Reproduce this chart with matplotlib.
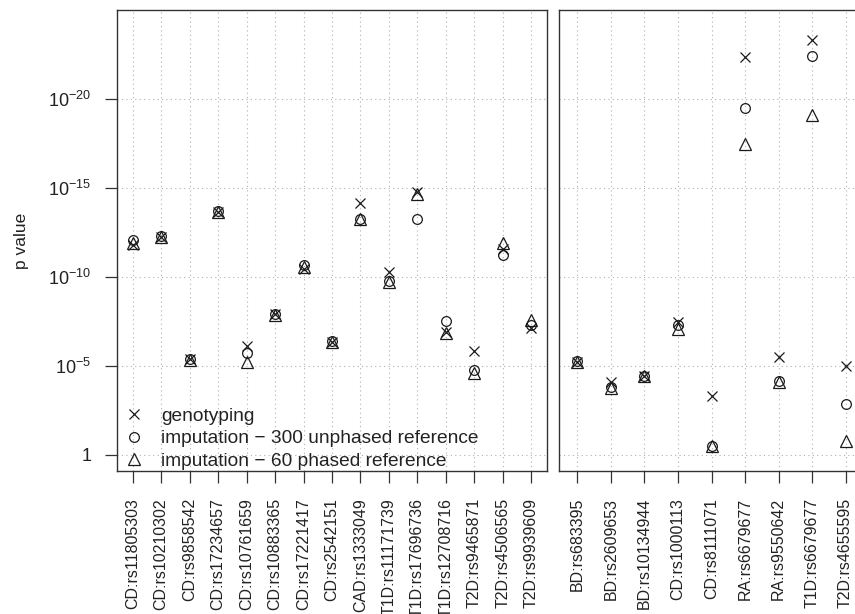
import matplotlib
matplotlib.use('Agg')
import matplotlib.pyplot as plt
import numpy as np

plt.rcParams['font.family'] = ['Liberation Sans', 'DejaVu Sans']
plt.rcParams['mathtext.fontset'] = 'custom'
plt.rcParams['mathtext.rm'] = 'Liberation Sans'
plt.rcParams['mathtext.it'] = 'Liberation Sans:italic'

# -log10(p)
left_snps = ['CD:rs11805303', 'CD:rs10210302', 'CD:rs9858542', 'CD:rs17234657',
             'CD:rs10761659', 'CD:rs10883365', 'CD:rs17221417', 'CD:rs2542151',
             'CAD:rs1333049', 'T1D:rs11171739', 'T1D:rs17696736', 'T1D:rs12708716',
             'T2D:rs9465871', 'T2D:rs4506565', 'T2D:rs9939609']
left_geno = [11.8, 12.25, 5.4, 13.65, 6.1, 7.9, 10.45, 6.37, 14.15, 10.3, 14.75, 6.93, 5.86, 11.6, 7.12]
left_imp300 = [12.1, 12.3, 5.4, 13.7, 5.75, 7.9, 10.65, 6.4, 13.25, 9.75, 13.28, 7.5, 4.8, 11.25, 7.3]
left_imp60 = [11.9, 12.25, 5.35, 13.65, 5.24, 7.88, 10.58, 6.37, 13.28, 9.7, 14.65, 6.87, 4.6, 11.93, 7.58]

right_snps = ['BD:rs683395', 'BD:rs2609653', 'BD:rs10134944', 'CD:rs1000113',
              'CD:rs8111071', 'RA:rs6679677', 'RA:rs9550642', 'T1D:rs6679677',
              'T2D:rs4655595']
right_geno = [5.24, 4.12, 4.44, 7.49, 3.33, 22.36, 5.52, 23.31, 5.0]
right_imp300 = [5.26, 3.84, 4.46, 7.3, 0.52, 19.47, 4.16, 22.43, 2.85]
right_imp60 = [5.22, 3.78, 4.42, 7.06, 0.52, 17.45, 4.1, 19.1, 0.8]

yticks = [0, 5, 10, 15, 20]
ytick_labels = ['1'] + [r'$10^{-%d}$' % k for k in yticks[1:]]

fig = plt.figure(figsize=(8.55, 6.14), dpi=100)
H = 614.0
W = 855.0
ax1 = fig.add_axes([117 / W, (H - 471) / H, (547 - 117) / W, (471 - 10) / H])
ax2 = fig.add_axes([559 / W, (H - 471) / H, (864 - 559) / W, (471 - 10) / H])

col = '#1a1a1a'
for ax, snps, g, i3, i6 in [(ax1, left_snps, left_geno, left_imp300, left_imp60),
                            (ax2, right_snps, right_geno, right_imp300, right_imp60)]:
    x = np.arange(1, len(snps) + 1)
    ax.plot(x, 10.0 ** -np.array(g), 'x', color=col, ms=7.5, mew=0.9, ls='none',
            label='genotyping')
    ax.plot(x, 10.0 ** -np.array(i3), 'o', mfc='none', mec=col, ms=7, mew=0.9, ls='none',
            label='imputation \u2212 300 unphased reference')
    ax.plot(x, 10.0 ** -np.array(i6), '^', mfc='none', mec=col, ms=8.5, mew=0.9, ls='none',
            label='imputation \u2212 60 phased reference')
    ax.set_yscale('log')
    ax.set_ylim(10 ** 0.9, 10 ** -25.0)
    ax.set_xlim(0.45, len(snps) + 0.55)
    ax.set_xticks(x)
    ax.set_xticklabels(snps, rotation=90, fontsize=11.5, color='#222222')
    ax.set_yticks([10.0 ** -k for k in yticks])
    ax.minorticks_off()
    ax.grid(True, ls=(0, (1, 3)), color='#b0b0b0', lw=0.8)
    ax.set_axisbelow(True)
    for s in ax.spines.values():
        s.set_color('#333333')
        s.set_linewidth(1.0)
    ax.tick_params(axis='x', length=8.5, width=0.9, color='#333333', pad=11)

ax1.set_yticklabels(ytick_labels, fontsize=13, color='#222222')
ax1.tick_params(axis='y', length=8.5, width=0.9, color='#333333', pad=10)
ax1.set_ylabel('p value', fontsize=12.5, labelpad=14, color='#222222')
ax2.tick_params(axis='y', length=0, labelleft=False)

ax1.legend(loc='lower left', bbox_to_anchor=(0.018, 0.002), frameon=False, fontsize=13.8,
           handlelength=1.0, handletextpad=0.9, labelspacing=0.27, borderpad=0,
           borderaxespad=0, labelcolor='#222222')

fig.savefig('out.png', dpi=100)
